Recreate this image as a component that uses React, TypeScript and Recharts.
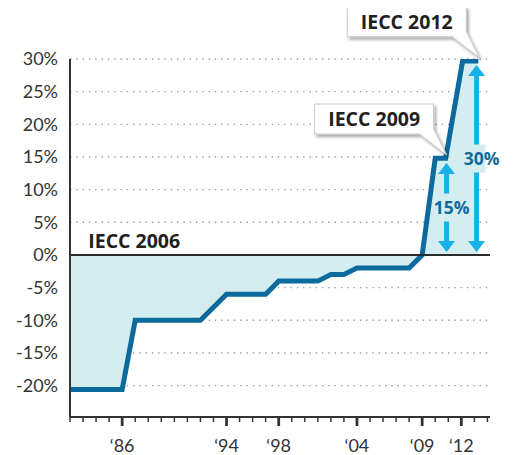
import { Area, CartesianGrid, ComposedChart, ReferenceDot, ReferenceLine, XAxis, YAxis } from 'recharts';

// year (x) and % change vs IECC 2006 (y)
const years = [1982, 1986, 1987, 1992, 1994, 1997, 1998, 2001, 2002, 2003, 2004, 2008, 2009, 2010, 2010.8, 2012.1, 2013.3];
const change = [-20.6, -20.6, -10, -10, -6, -6, -4, -4, -3, -3, -2, -2, 0, 14.8, 14.8, 29.7, 29.7];

const yTicks = [30, 25, 20, 15, 10, 5, 0, -5, -10, -15, -20];
const xTicks = Array.from({ length: 33 }, (_, i) => 1982 + i);
const majorYears = [1986, 1994, 1998, 2004, 2009, 2012];

const callouts = [
  { label: 'IECC 2009', x: 2010.8, y: 14.8 },
  { label: 'IECC 2012', x: 2013.3, y: 29.7 },
];
const arrows = [
  { label: '15%', x: 2010.87, value: 15 },
  { label: '30%', x: 2013.17, value: 30 },
];

const data = years.map((year, i) => ({ year, v: change[i] }));

const LINE = '#0c6b9c';
const FILL = '#d4edf0';
const ARROW = '#17b0e8';
const LABEL_BLUE = '#136a9a';
const TEXT = '#333';
const FONT = 'Lato, "Open Sans", sans-serif';
const BOLD = '"Open Sans", Lato, sans-serif';

function YearTick({ x, y, payload }: any) {
  const major = majorYears.includes(payload.value);
  return (
    <g>
      <line
        x1={x}
        x2={x}
        y1={y}
        y2={y + (major ? 9 : 5)}
        stroke={TEXT}
        strokeWidth={major ? 2.8 : 1.5}
      />
      {major && (
        <text x={x} y={y + 35} textAnchor="middle" fontSize={18} fontFamily={FONT} fill={TEXT}>
          {'\u2018' + String(payload.value).slice(2)}
        </text>
      )}
    </g>
  );
}

function Callout({ cx, cy, label }: any) {
  const tx = cx + 1;
  const ty = cy - 3.3;
  const L = tx - 132;
  const R = tx - 13;
  const T = ty - 51;
  const B = ty - 21;
  const id = 'shadow-' + label.replace(/\s/g, '');
  const d = `M${L},${T} H${R} V${B - 5} L${tx},${ty} L${tx - 27},${B} H${L} Z`;
  return (
    <g>
      <defs>
        <filter id={id} x="-20%" y="-30%" width="140%" height="170%">
          <feDropShadow dx="2" dy="2.5" stdDeviation="1.6" floodColor="#000" floodOpacity="0.35" />
        </filter>
      </defs>
      <path d={d} fill="#fff" stroke="#c9c9c9" strokeWidth={1} filter={`url(#${id})`} />
      <text
        x={(L + R) / 2}
        y={(T + B) / 2 + 7.5}
        textAnchor="middle"
        fontSize={19.5}
        fontWeight={700}
        fontFamily={BOLD}
        fill="#231f20"
      >
        {label}
      </text>
    </g>
  );
}

function Arrow({ x1, y1, y2, label }: any) {
  const x = x1;
  const bottom = Math.max(y1, y2) - 3;
  const top = Math.min(y1, y2) + 6;
  const mid = (top + bottom) / 2;
  const head = 11;
  const hw = 8.5;
  const sw = 2.5;
  return (
    <g>
      <polygon points={`${x},${top} ${x + hw},${top + head} ${x - hw},${top + head}`} fill={ARROW} />
      <rect x={x - sw} y={top + head - 1} width={sw * 2} height={bottom - top - 2 * head + 2} fill={ARROW} />
      <polygon points={`${x},${bottom} ${x + hw},${bottom - head} ${x - hw},${bottom - head}`} fill={ARROW} />
      <rect x={x - 6} y={mid - 14} width={15} height={28} fill={FILL} />
      <text
        x={x + 5}
        y={mid + 6.5}
        textAnchor="middle"
        fontSize={17.5}
        fontWeight={700}
        fontFamily={BOLD}
        fill={LABEL_BLUE}
      >
        {label}
      </text>
    </g>
  );
}

function BaseLabel({ cx, cy }: any) {
  return (
    <text x={cx} y={cy - 7} fontSize={19.5} fontWeight={700} fontFamily={BOLD} fill="#231f20">
      IECC 2006
    </text>
  );
}

export default function App() {
  return (
    <ComposedChart
      width={500}
      height={447}
      data={data}
      margin={{ top: 51, right: 18, bottom: 0, left: 0 }}
      style={{ fontFamily: FONT }}
    >
      <CartesianGrid vertical={false} stroke="#9a9a9a" strokeWidth={1.4} strokeDasharray="1.4 4.9" />
      <XAxis
        dataKey="year"
        type="number"
        domain={[1982, 2014.2]}
        ticks={xTicks}
        interval={0}
        allowDataOverflow
        height={38}
        tickLine={false}
        tickSize={0}
        tickMargin={0}
        axisLine={{ stroke: TEXT, strokeWidth: 2 }}
        tick={<YearTick />}
      />
      <YAxis
        type="number"
        domain={[-24.8, 30]}
        ticks={yTicks}
        interval={0}
        allowDataOverflow
        width={62}
        tickLine={false}
        tickSize={6}
        tickMargin={6}
        axisLine={{ stroke: TEXT, strokeWidth: 2 }}
        tick={{ fill: TEXT, fontSize: 18, fontFamily: FONT }}
        tickFormatter={(v: number) => `${v}%`}
      />
      <Area
        dataKey="v"
        type="linear"
        baseValue={0}
        stroke={LINE}
        strokeWidth={5}
        fill={FILL}
        fillOpacity={1}
        dot={false}
        activeDot={false}
        isAnimationActive={false}
      />
      <ReferenceLine y={0} stroke="#2b2b2b" strokeWidth={2} />
      <ReferenceDot x={1983.4} y={0} r={0} shape={<BaseLabel />} />
      {arrows.map((a) => (
        <ReferenceLine
          key={a.label}
          segment={[
            { x: a.x, y: 0 },
            { x: a.x, y: a.value },
          ]}
          shape={(p: any) => <Arrow {...p} label={a.label} />}
        />
      ))}
      {callouts.map((c) => (
        <ReferenceDot key={c.label} x={c.x} y={c.y} r={0} shape={(p: any) => <Callout {...p} label={c.label} />} />
      ))}
    </ComposedChart>
  );
}
